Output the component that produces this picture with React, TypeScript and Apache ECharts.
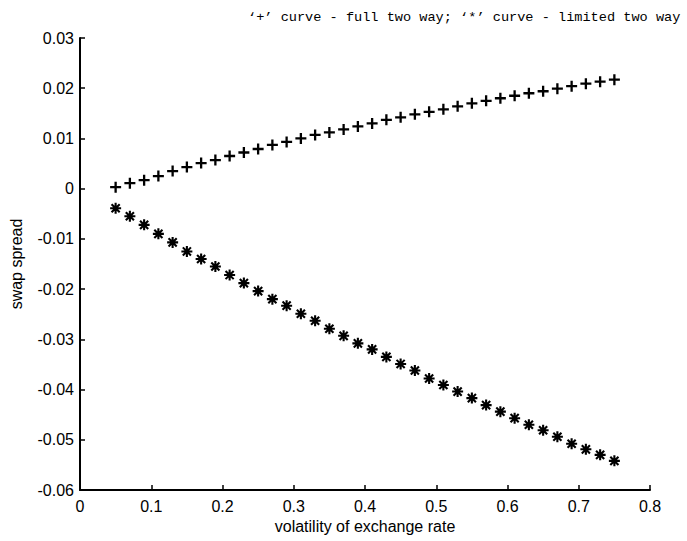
import React, { useEffect, useRef } from "react";
import * as echarts from "echarts";

const titleText = "\u2018+\u2019 curve - full two way; \u2018*\u2019 curve - limited two way";
const xAxisName = "volatility of exchange rate";
const yAxisName = "swap spread";

const volatility = [
  0.05, 0.07, 0.09, 0.11, 0.13, 0.15, 0.17, 0.19, 0.21, 0.23, 0.25, 0.27,
  0.29, 0.31, 0.33, 0.35, 0.37, 0.39, 0.41, 0.43, 0.45, 0.47, 0.49, 0.51,
  0.53, 0.55, 0.57, 0.59, 0.61, 0.63, 0.65, 0.67, 0.69, 0.71, 0.73, 0.75,
];

const fullTwoWay = [
  0.0003, 0.0011, 0.0017, 0.0025, 0.0035, 0.0043, 0.0051, 0.0057, 0.0065,
  0.0072, 0.0079, 0.0087, 0.0093, 0.01, 0.0107, 0.0112, 0.0118, 0.0124,
  0.013, 0.0137, 0.0142, 0.0148, 0.0153, 0.0158, 0.0164, 0.017, 0.0175,
  0.018, 0.0185, 0.019, 0.0194, 0.0199, 0.0204, 0.0209, 0.0213, 0.0217,
];

const limitedTwoWay = [
  -0.0039, -0.0055, -0.0072, -0.009, -0.0107, -0.0125, -0.014, -0.0155,
  -0.0172, -0.0188, -0.0204, -0.022, -0.0233, -0.0249, -0.0263, -0.0279,
  -0.0293, -0.0308, -0.032, -0.0335, -0.0349, -0.0362, -0.0378, -0.0391,
  -0.0404, -0.0417, -0.0431, -0.0444, -0.0457, -0.047, -0.0481, -0.0494,
  -0.0508, -0.0519, -0.053, -0.0542,
];

const plusSymbol = "path://M5,0L5,10M0,5L10,5";
const starSymbol = "path://M5,0L5,10M0,5L10,5M1.3,1.3L8.7,8.7M1.3,8.7L8.7,1.3";

const labelFont = "'Liberation Sans', Arial, sans-serif";

export default function App() {
  const ref = useRef<HTMLDivElement>(null);

  useEffect(() => {
    if (!ref.current) return;
    const chart = echarts.init(ref.current, null, { renderer: "svg" });
    chart.setOption({
      animation: false,
      backgroundColor: "#fff",
      title: {
        text: titleText,
        left: 243,
        top: 5,
        textStyle: {
          fontFamily: "'Liberation Mono', 'Courier New', monospace",
          fontSize: 13.6,
          fontWeight: "normal",
          color: "#000",
        },
      },
      grid: { left: 78, right: 37, top: 38, bottom: 51, containLabel: false },
      xAxis: {
        type: "value",
        min: 0,
        max: 0.8,
        interval: 0.1,
        name: xAxisName,
        nameLocation: "middle",
        nameGap: 22,
        nameTextStyle: { fontFamily: labelFont, fontSize: 16, color: "#000" },
        axisLine: { onZero: false, lineStyle: { color: "#000", width: 2 } },
        axisTick: { inside: true, length: 5, lineStyle: { color: "#000", width: 1.5 } },
        axisLabel: {
          margin: 8,
          fontFamily: labelFont,
          fontSize: 16,
          color: "#000",
          formatter: (v: number) => String(Number(v.toFixed(1))),
        },
        splitLine: { show: false },
      },
      yAxis: {
        type: "value",
        min: -0.06,
        max: 0.03,
        interval: 0.01,
        name: yAxisName,
        nameLocation: "middle",
        nameGap: 56,
        nameTextStyle: { fontFamily: labelFont, fontSize: 16, color: "#000" },
        axisLine: { show: true, onZero: false, lineStyle: { color: "#000", width: 2 } },
        axisTick: { show: true, inside: true, length: 5, lineStyle: { color: "#000", width: 1.5 } },
        axisLabel: {
          margin: 6,
          fontFamily: labelFont,
          fontSize: 16,
          color: "#000",
          formatter: (v: number) => String(Number(v.toFixed(2))),
        },
        splitLine: { show: false },
      },
      series: [
        {
          name: "full two way",
          type: "scatter",
          symbol: plusSymbol,
          symbolSize: 11,
          itemStyle: { color: "#000", borderColor: "#000", borderWidth: 2.3, opacity: 1 },
          data: volatility.map((x, i) => [x, fullTwoWay[i]]),
        },
        {
          name: "limited two way",
          type: "scatter",
          symbol: starSymbol,
          symbolSize: 11,
          itemStyle: { color: "#000", borderColor: "#000", borderWidth: 2.1, opacity: 1 },
          data: volatility.map((x, i) => [x, limitedTwoWay[i]]),
        },
      ],
    });
    return () => chart.dispose();
  }, []);

  return <div ref={ref} style={{ width: 687, height: 541, position: "absolute", left: 0, top: 0 }} />;
}
